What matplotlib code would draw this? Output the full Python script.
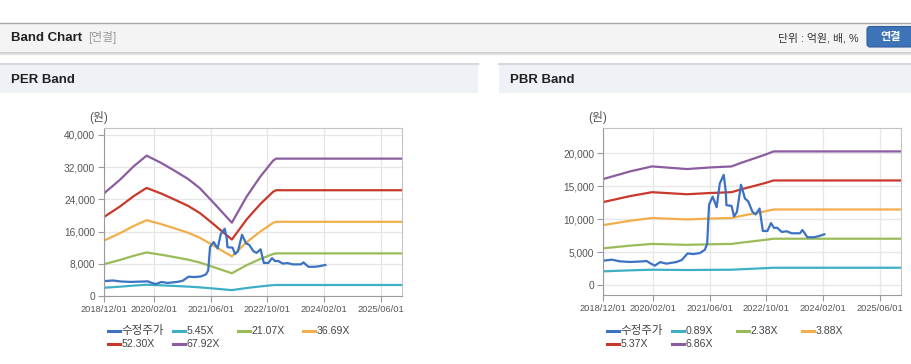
import numpy as np
import matplotlib
matplotlib.use('Agg')
import matplotlib.pyplot as plt
import matplotlib.dates as mdates
from matplotlib.patches import Rectangle, FancyBboxPatch
from matplotlib.lines import Line2D
from matplotlib.ticker import FuncFormatter

plt.rcParams['font.family'] = ['Liberation Sans', 'Noto Sans CJK KR', 'DejaVu Sans']

# 수정주가 (adjusted price), shared by both charts
price_dates = ['2018-12-04', '2019-02-15', '2019-04-25', '2019-07-20', '2019-11-12',
               '2019-12-10', '2020-01-06', '2020-02-18', '2020-04-04', '2020-05-28',
               '2020-08-22', '2020-10-06', '2020-11-25', '2021-01-12', '2021-03-10',
               '2021-04-22', '2021-05-12', '2021-05-28', '2021-06-28', '2021-08-01',
               '2021-08-28', '2021-10-01', '2021-10-18', '2021-10-24', '2021-12-07',
               '2021-12-28', '2022-01-22', '2022-02-26', '2022-04-01', '2022-04-28',
               '2022-06-04', '2022-07-01', '2022-08-04', '2022-09-01', '2022-10-10',
               '2022-11-10', '2022-12-06', '2023-01-01', '2023-02-10', '2023-03-25',
               '2023-05-06', '2023-07-16', '2023-08-06', '2023-09-18', '2023-11-10',
               '2023-12-22', '2024-02-10']
price_vals = [3700, 3850, 3600, 3500, 3600,
              3650, 3340, 2950, 3480, 3250,
              3500, 3800, 4800, 4700, 4850,
              5350, 6300, 12200, 13400, 11800,
              15400, 16700, 14200, 12100, 12000,
              10400, 11100, 15200, 13100, 12700,
              11100, 10700, 11600, 8200, 8200,
              9400, 8650, 8700, 8050, 8150,
              7850, 7850, 8350, 7250, 7250,
              7400, 7700]

# PER band: EPS base and multiples
eps_dates = ['2018-12-01', '2019-04-15', '2019-08-10', '2019-12-01', '2020-04-01',
             '2020-07-15', '2020-11-20', '2021-03-01', '2021-07-01', '2021-10-01',
             '2021-12-01', '2022-04-06', '2022-08-01', '2022-11-20', '2022-12-15',
             '2025-12-01']
eps_vals = [375, 424, 473, 513, 487,
            461, 428, 394, 339, 296,
            268, 363, 436, 495, 502,
            502]
per_multiples = [5.45, 21.07, 36.69, 52.30, 67.92]

# PBR band: BPS base and multiples
bps_dates = ['2018-12-01', '2019-07-20', '2020-01-25', '2020-07-28', '2020-11-20',
             '2021-06-05', '2021-12-07', '2022-02-20', '2022-06-10', '2022-09-20',
             '2022-12-01', '2025-12-01']
bps_vals = [2341, 2510, 2621, 2585, 2563,
            2598, 2621, 2694, 2790, 2879,
            2952, 2952]
pbr_multiples = [0.89, 2.38, 3.88, 5.37, 6.86]

x_ticks = ['2018-12-01', '2020-02-01', '2021-06-01', '2022-10-01', '2024-02-01', '2025-06-01']

price_color = '#3b72c2'
band_colors = ['#3fafc6', '#9bbb59', '#f2ae4a', '#c8392b', '#8b5da0']

W, H = 912, 364
fig = plt.figure(figsize=(W / 100, H / 100), dpi=100)
fig.patch.set_facecolor('white')

# background / decoration layer in pixel coords
bg = fig.add_axes([0, 0, 1, 1], zorder=-1)
bg.set_xlim(0, W)
bg.set_ylim(H, 0)
bg.axis('off')

bg.add_patch(Rectangle((0, 22.5), W, 30, facecolor='#f4f4f4', edgecolor='none'))
bg.plot([0, W], [22.5, 22.5], color='#a8a8a8', lw=1)
bg.plot([0, W], [52.5, 52.5], color='#c8c8c8', lw=1.2)
bg.plot([0, W], [54, 54], color='#e6e6e6', lw=1)
bg.text(11, 38, 'Band Chart', fontsize=9.5, fontweight='bold', color='#222222', va='center')
bg.text(88, 38, '[연결]', fontsize=8.5, color='#9a9a9a', va='center')
bg.text(859, 38, '단위 : 억원, 배, %', fontsize=7.8, color='#333333', va='center', ha='right')
bg.add_patch(FancyBboxPatch((867, 26.5), 52, 20.5, boxstyle='round,pad=0,rounding_size=3',
                            facecolor='#3d73b7', edgecolor='#2f5f9c', lw=0.8))
bg.text(891, 37, '연결', fontsize=8, fontweight='bold', color='white', va='center', ha='center')

for x0, w, title in [(0, 478, 'PER Band'), (499, 413, 'PBR Band')]:
    bg.add_patch(Rectangle((x0, 63), w, 30, facecolor='#eef1f6', edgecolor='none'))
    bg.plot([x0, x0 + w], [63.5, 63.5], color='#d4d8de', lw=1.5)
    bg.text(x0 + 11, 80, title, fontsize=9.5, fontweight='bold', color='#222222', va='center')

px_day = 277 / (np.datetime64('2025-06-01') - np.datetime64('2018-12-01')).astype(int)
x_left = np.datetime64('2018-12-01')
x_right = x_left + np.timedelta64(int(round(298 / px_day)), 'D')


def draw_chart(left, top, bottom, base_dates, base_vals, multiples, ylim, yticks):
    ax = fig.add_axes([left / W, (H - bottom) / H, 298 / W, (bottom - top) / H])
    ax.set_facecolor('white')
    bd = np.array(base_dates, dtype='datetime64[D]')
    bv = np.array(base_vals, dtype=float)
    for m, c in zip(multiples, band_colors):
        ax.plot(bd, bv * m, color=c, lw=1.6, solid_capstyle='butt')
    ax.plot(np.array(price_dates, dtype='datetime64[D]'), price_vals, color=price_color, lw=1.6)

    ax.set_xlim(x_left, x_right)
    ax.set_ylim(*ylim)
    ax.set_xticks(np.array(x_ticks, dtype='datetime64[D]'))
    ax.xaxis.set_major_formatter(mdates.DateFormatter('%Y/%m/%d'))
    ax.set_yticks(yticks)
    ax.yaxis.set_major_formatter(FuncFormatter(lambda v, p: f'{v:,.0f}'))
    ax.grid(True, color='#e6e6e6', lw=0.9)
    ax.set_axisbelow(True)
    ax.tick_params(axis='both', length=4, color='#9a9a9a', labelcolor='#555555', pad=2.5)
    ax.tick_params(axis='x', labelsize=6.7)
    ax.tick_params(axis='y', labelsize=7.3)
    for s in ['top', 'right']:
        ax.spines[s].set_color('#c4c4c4')
    for s in ['left', 'bottom']:
        ax.spines[s].set_color('#9a9a9a')

    bg.text(left - 5, 118, '(원)', fontsize=8.5, color='#555555', va='center', ha='center')

    labels = ['수정주가'] + [f'{m:.2f}X' for m in multiples]
    colors = [price_color] + band_colors
    for k, (lab, c) in enumerate(zip(labels, colors)):
        row, col = divmod(k, 4)
        x0 = left + 3.7 + 65 * col
        y0 = 330.7 + 13.3 * row
        bg.add_line(Line2D([x0, x0 + 12], [y0, y0], color=c, lw=2.2))
        bg.text(x0 + 14, y0, lab, fontsize=8.3 if k == 0 else 7.6, color='#444444', va='center')
    return ax


draw_chart(104, 128, 296, eps_dates, eps_vals, per_multiples,
           (0, 41700), [0, 8000, 16000, 24000, 32000, 40000])
draw_chart(603, 128, 295, bps_dates, bps_vals, pbr_multiples,
           (-1500, 23800), [0, 5000, 10000, 15000, 20000])

fig.savefig('out.png', dpi=100)
